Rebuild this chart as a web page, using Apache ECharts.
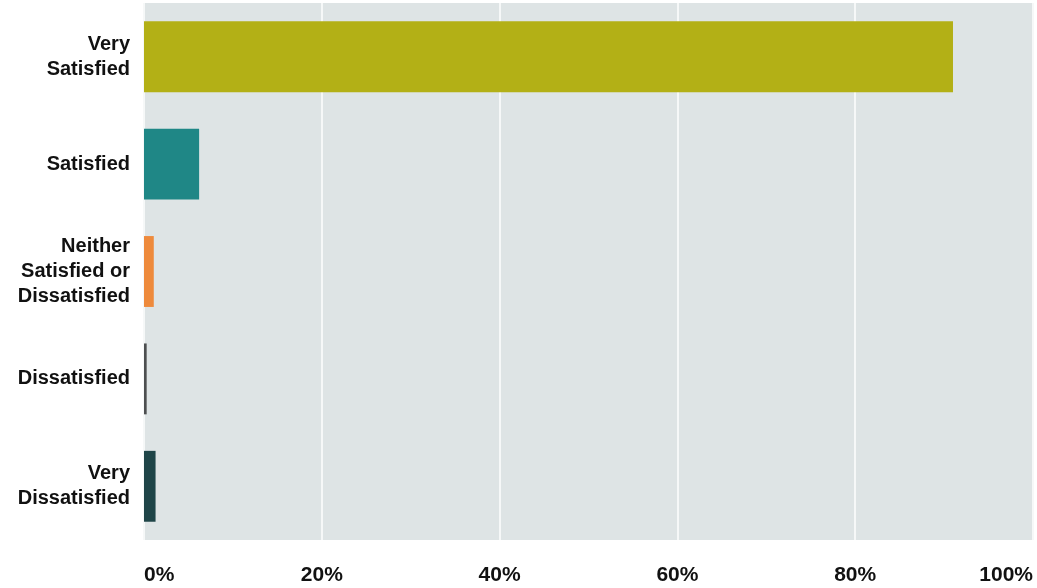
<!DOCTYPE html>
<html>
<head>
<meta charset="utf-8">
<script src="https://cdn.jsdelivr.net/npm/echarts@6/dist/echarts.min.js"></script>
<style>
  html, body { margin: 0; padding: 0; background: #ffffff; }
  #chart { width: 1037px; height: 588px; }
</style>
</head>
<body>
<div id="chart"></div>
<script>
// Satisfaction levels, top to bottom
const categories = [
  'Very\nSatisfied',
  'Satisfied',
  'Neither\nSatisfied or\nDissatisfied',
  'Dissatisfied',
  'Very\nDissatisfied'
];
// Share of respondents (%)
const shares = [91.0, 6.2, 1.1, 0.3, 1.3];
const barColors = ['#b3b016', '#1f8786', '#ee8a3c', '#4d4f50', '#1f4548'];
const tickValues = [0, 20, 40, 60, 80, 100];

const chart = echarts.init(document.getElementById('chart'));
chart.setOption({
  animation: false,
  grid: {
    left: 144, right: 4, top: 3, bottom: 48,
    show: true, backgroundColor: '#dee4e5', borderWidth: 0
  },
  xAxis: {
    type: 'value',
    min: tickValues[0],
    max: tickValues[tickValues.length - 1],
    interval: 20,
    axisLine: { show: false },
    axisTick: { show: false },
    splitLine: { show: true, lineStyle: { color: '#f6f8f8', width: 2 } },
    axisLabel: {
      formatter: '{value}%',
      fontFamily: 'Liberation Sans, Arial, sans-serif',
      fontWeight: 'bold',
      fontSize: 21,
      color: '#111111',
      margin: 25,
      alignMinLabel: 'left',
      alignMaxLabel: 'right'
    }
  },
  yAxis: {
    type: 'category',
    data: categories,
    inverse: true,
    axisLine: { show: false },
    axisTick: { show: false },
    splitLine: { show: false },
    axisLabel: {
      fontFamily: 'Liberation Sans, Arial, sans-serif',
      fontWeight: 'bold',
      fontSize: 20,
      lineHeight: 25,
      color: '#111111',
      margin: 14,
      align: 'right',
      padding: [6, 0, 0, 0]
    }
  },
  series: [{
    type: 'bar',
    data: shares.map((v, i) => ({ value: v, itemStyle: { color: barColors[i] } })),
    barCategoryGap: '34%'
  }]
});
</script>
</body>
</html>
